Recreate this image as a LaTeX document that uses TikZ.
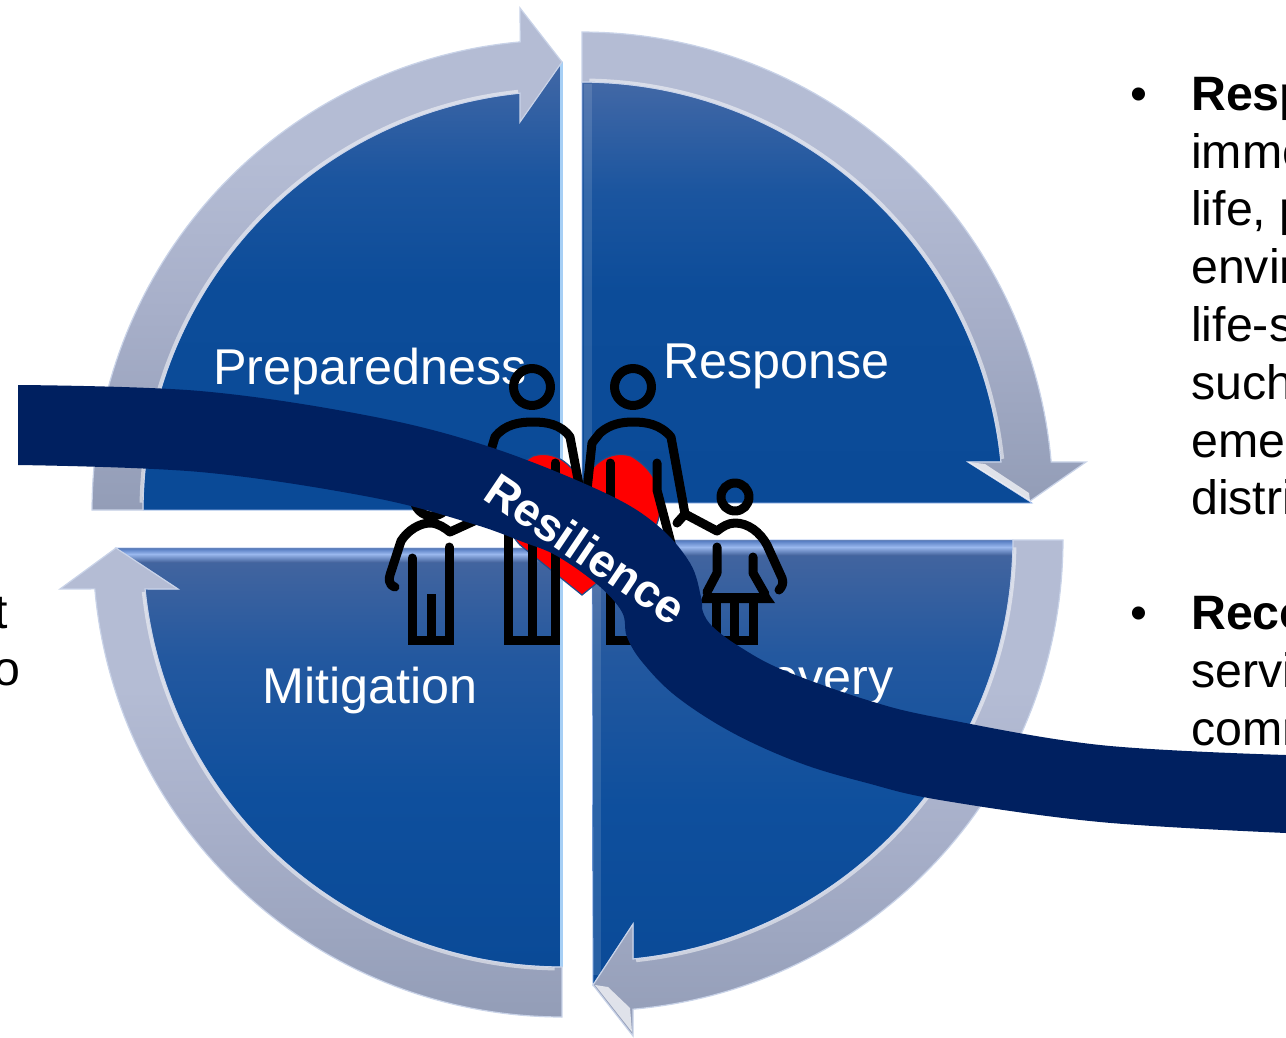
\documentclass[tikz,border=0pt]{standalone}
\usepackage{fontspec}
\setmainfont{Liberation Sans}
\definecolor{navy}{HTML}{002060}
\definecolor{edgelight}{HTML}{C9D3E8}
\definecolor{hilite}{HTML}{9AB8EE}
\definecolor{stripmid}{HTML}{5A80C4}
\definecolor{sidelight}{HTML}{A6CFF5}
\definecolor{heartline}{HTML}{1F4E8C}
\definecolor{wa}{HTML}{0A4A97}
\definecolor{wb}{HTML}{0C4C99}
\definecolor{wc}{HTML}{1B559F}
\definecolor{wd}{HTML}{4268A6}
\definecolor{we}{HTML}{0E4F9D}
\definecolor{wf}{HTML}{23589F}
\definecolor{wg}{HTML}{46669F}
\definecolor{ba}{HTML}{939DB7}
\definecolor{bb}{HTML}{A7AFC9}
\definecolor{bc}{HTML}{B4BCD4}
\pgfdeclareverticalshading{topwedge}{100bp}{color(0bp)=(wa); color(25bp)=(wa); color(50bp)=(wb); color(62bp)=(wc); color(75bp)=(wd); color(100bp)=(wd)}
\pgfdeclareverticalshading{botwedge}{100bp}{color(0bp)=(wa); color(25bp)=(wa); color(45bp)=(we); color(62bp)=(wf); color(75bp)=(wg); color(100bp)=(wg)}
\pgfdeclareverticalshading{bandshade}{100bp}{color(0bp)=(ba); color(25bp)=(ba); color(45bp)=(bb); color(60bp)=(bc); color(75bp)=(bc); color(100bp)=(bc)}
\tikzset{
  wedgetop/.style={shading=topwedge,draw=hilite,line width=0.7pt},
  wedgebot/.style={shading=botwedge,draw=hilite,line width=0.7pt},
  band/.style={shading=bandshade,draw=edgelight,line width=1.2pt,line join=miter},
  bevel/.style={draw=white,opacity=0.5,line width=3pt},
  bevelface/.style={fill=white,opacity=0.7},
  sidestrip/.style={fill=white,opacity=0.12},
  quadlabel/.style={text=white,font=\fontsize{50.3}{55}\selectfont,inner sep=0pt,anchor=base west},
  bodytext/.style={text=black,font=\fontsize{48.3}{55}\selectfont,inner sep=0pt,anchor=base west},
  boldtext/.style={text=black,font=\fontsize{48.3}{55}\selectfont\bfseries,inner sep=0pt,anchor=base west},
  figure/.style={draw=black,line width=9pt,line cap=round,line join=round},
  figureflat/.style={draw=black,line width=9pt,line cap=butt,line join=miter},
}
\begin{document}
\begin{tikzpicture}[x=1pt,y=-1pt]
\useasboundingbox (0,0) rectangle (1286,1037);
\fill[white] (0,0) rectangle (1286,1037);

% --- top-left quadrant
\shade[wedgetop] (562,510) -- (143,510)
  -- plot[domain=180:264.25,samples=70] ({562+419*cos(\x)},{510+419*sin(\x)})
  -- (562,62) -- cycle;
\fill[sidelight] (560,62) rectangle (563,510);
\shade[band] (92,510)
  -- plot[domain=180:264.9,samples=70] ({562+470*cos(\x)},{510+470*sin(\x)})
  -- (520,8) -- (562,62) -- (520,122)
  -- plot[domain=264.25:180,samples=70] ({562+419*cos(\x)},{510+419*sin(\x)})
  -- cycle;
\draw[bevel] plot[domain=181:264,samples=70] ({562+421*cos(\x)},{510+421*sin(\x)});

% --- top-right quadrant
\shade[wedgetop] (582,503) -- (582,82)
  -- plot[domain=270:354.4,samples=70] ({582+421*cos(\x)},{503+421*sin(\x)})
  -- (968,462) -- (1032,503) -- cycle;
\fill[sidestrip] (584,84) rectangle (592,503);
\shade[band] (582,32)
  -- plot[domain=270:355,samples=70] ({582+471*cos(\x)},{503+471*sin(\x)})
  -- (1086,462) -- (1030,501) -- (968,462)
  -- plot[domain=354.4:270,samples=70] ({582+421*cos(\x)},{503+421*sin(\x)})
  -- cycle;
\draw[bevel] plot[domain=271:354,samples=70] ({582+423*cos(\x)},{503+423*sin(\x)});
\fill[bevelface] (968,462) -- (1030,501) -- (1029,493) -- (985,464) -- cycle;

% --- bottom-right quadrant
\shade[wedgebot] (592,540) -- (1013,540)
  -- plot[domain=0:84.4,samples=70] ({592+421*cos(\x)},{540+421*sin(\x)})
  -- (633,924) -- (593,985) -- cycle;
\fill[sidestrip] (593,550) rectangle (601,975);
\shade[top color=stripmid,bottom color=hilite] (592,541) rectangle (1014,547);
\shade[top color=hilite,bottom color=wg] (592,547) rectangle (1014,555);
\shade[band] (1063,540)
  -- plot[domain=0:85,samples=70] ({592+471*cos(\x)},{540+471*sin(\x)})
  -- (633,1036) -- (593,985) -- (633,924)
  -- plot[domain=84.4:0,samples=70] ({592+421*cos(\x)},{540+421*sin(\x)})
  -- cycle;
\draw[bevel] plot[domain=1:84,samples=70] ({592+423*cos(\x)},{540+423*sin(\x)});
\fill[bevelface] (595,985) -- (632,1032) -- (630,1008) -- (608,987) -- cycle;

% --- bottom-left quadrant
\shade[wedgebot] (562,548) -- (562,967)
  -- plot[domain=90:174.4,samples=70] ({562+419*cos(\x)},{548+419*sin(\x)})
  -- (178,589) -- (116,548) -- cycle;
\fill[sidelight] (560,549) rectangle (563,967);
\shade[top color=stripmid,bottom color=hilite] (120,549) rectangle (560,554);
\shade[top color=hilite,bottom color=wg] (125,554) rectangle (560,562);
\shade[band] (562,1017)
  -- plot[domain=90:175,samples=70] ({562+469*cos(\x)},{548+469*sin(\x)})
  -- (60,589) -- (116,548) -- (178,589)
  -- plot[domain=174.4:90,samples=70] ({562+419*cos(\x)},{548+419*sin(\x)})
  -- cycle;
\draw[bevel] plot[domain=91:174,samples=70] ({562+421*cos(\x)},{548+421*sin(\x)});

% --- quadrant labels
\node[quadlabel] (prep) at (213,384) {Preparedness};
\node[quadlabel] (resp) at (663,378) {Response};
\node[quadlabel] (miti) at (262,703) {Mitigation};
\node[quadlabel] (reco) at (681,694) {Recovery};

% --- heart
\fill[red,draw=heartline,line width=1.2pt] (582,595)
  -- (520,545) .. controls (497,520) and (495,478) .. (533,456)
  .. controls (553,450) and (572,462) .. (582,485)
  .. controls (592,462) and (611,450) .. (631,456)
  .. controls (669,478) and (667,520) .. (644,545) -- cycle;

% --- man, left
\draw[figure] (532,387) circle (18.5);
\draw[figure] (485,510) -- (492,447) -- (495,437) .. controls (505,424) and (520,422) .. (533,422)
   .. controls (546,422) and (561,424) .. (570,437) -- (580,490);
\draw[figure] (508,463) -- (508,500);
\draw[figureflat] (508,500) -- (508,640) -- (555,640) -- (555,500);
\draw[figure] (555,463) -- (555,500);
\draw[figureflat] (532,520) -- (532,640);
% --- man, right
\draw[figure] (633,387) circle (18.5);
\draw[figure] (587,490) -- (592,443) -- (600,433) .. controls (610,424) and (622,422) .. (633,422)
   .. controls (646,422) and (660,424) .. (671,437) -- (685,514) -- (677,523);
\draw[figure] (610,463) -- (610,500);
\draw[figureflat] (610,500) -- (610,640) -- (658,640) -- (658,560);
\draw[figure] (657,463) -- (657,490) -- (672,547);
\draw[figureflat] (633,520) -- (633,640);
% --- boy
\draw[figure] (432,498) circle (18);
\draw[figure] (395,587) .. controls (388,585) and (389,578) .. (390,575) -- (401,541)
  .. controls (408,530) and (420,523) .. (430,523) .. controls (438,523) and (445,528) .. (450,532)
  -- (485,516);
\draw[figure] (412,558) -- (412,600);
\draw[figure] (449,547) -- (449,600);
\draw[figureflat] (412,600) -- (412,640) -- (449,640) -- (449,600);
\draw[figureflat] (431,594) -- (431,640);
% --- girl
\draw[figure] (735,497) circle (14);
\draw[figure] (685,514) -- (717,531) .. controls (722,527) and (728,523) .. (735,523)
  .. controls (748,523) and (760,532) .. (767,545) -- (782,578) .. controls (784,583) and (782,587) .. (779,590);
\draw[figure] (717,547) -- (717,573) -- (707,592);
\draw[figure] (753,557) -- (753,573) -- (765,594);
\fill[black] (704,593) -- (768,593) -- (775,603) -- (700,603) -- cycle;
\draw[figureflat] (716,600) -- (716,640) -- (753,640) -- (753,600);
\draw[figureflat] (734.5,600) -- (734.5,640);

% --- ribbon
\fill[navy] plot[smooth,tension=0.6] coordinates {(18,385) (200,391) (370,416) (490,447) (603,492) (657,525) (690,563) (701,597) (703,612) (713,627) (740,647) (783,670) (867,700) (940,718) (1100,745) (1286,755)}
  -- plot[smooth,tension=0.6] coordinates {(1286,833) (1100,822) (940,800) (867,783) (800,763) (733,733) (677,697) (643,663) (627,637) (622,612) (598,585) (557,556) (523,542) (470,523) (370,497) (200,472) (18,465)}
  -- cycle;
\node[text=white,font=\fontsize{46.5}{50}\selectfont\bfseries,inner sep=0pt,rotate=-34,anchor=base west] (resil) at (481,498) {Resilience};

% --- text cut by the picture's edges
\begin{scope}
\clip (0,0) rectangle (1286,1037);
\node[bodytext,anchor=base east] (leftone) at (8,628) {t};
\node[bodytext,anchor=base east] (lefttwo) at (20.5,685) {o};
\node[bodytext] (bulletone) at (1130,110) {•};
\node[boldtext] (l1) at (1191,110) {Resp};
\node[bodytext] (l2) at (1191,168) {imme};
\node[bodytext] (l3) at (1191,225) {life, p};
\node[bodytext] (l4) at (1191,283) {envir};
\node[bodytext] (l5) at (1191,341) {life-s};
\node[bodytext] (l6) at (1191,399) {such};
\node[bodytext] (l7) at (1191,457) {eme};
\node[bodytext] (l8) at (1191,514) {distri};
\node[bodytext] (bullettwo) at (1130,629) {•};
\node[boldtext] (r1) at (1191,629) {Reco};
\node[bodytext] (r2) at (1191,687) {servi};
\node[bodytext] (r3) at (1191,745) {comm};
\end{scope}
\end{tikzpicture}
\end{document}
